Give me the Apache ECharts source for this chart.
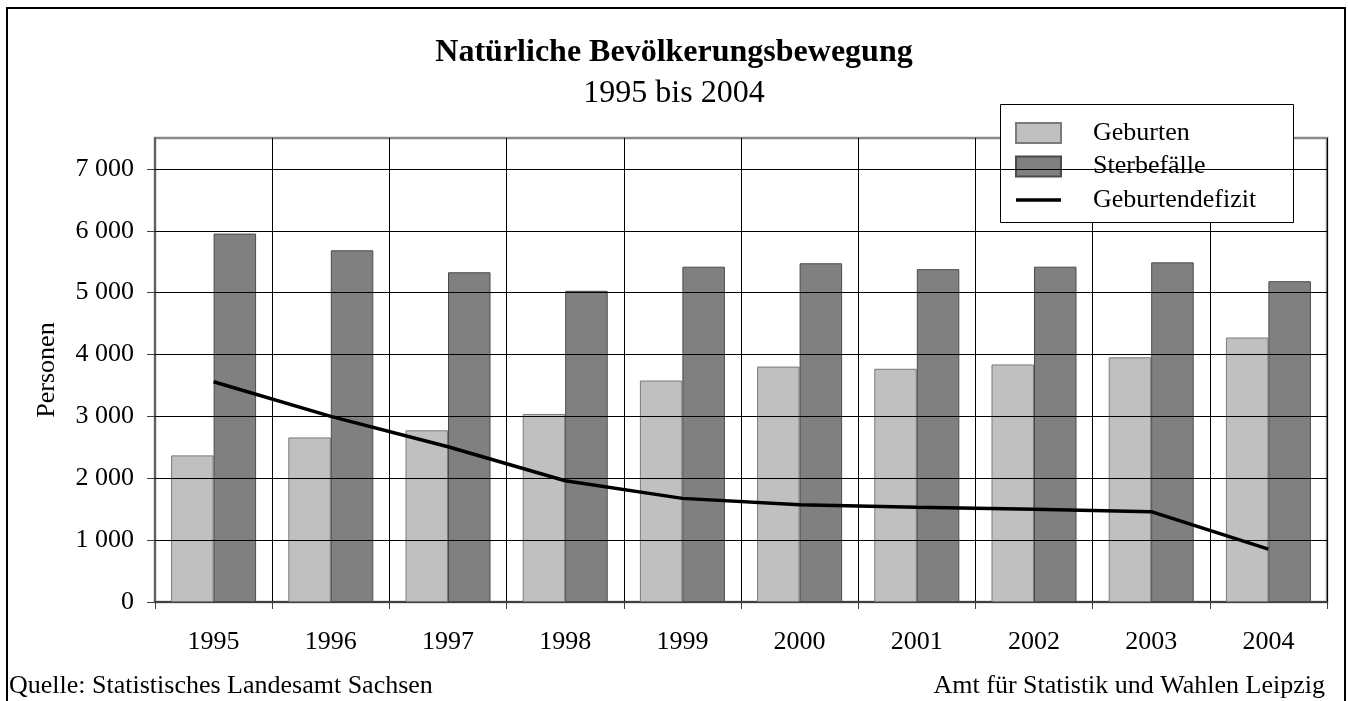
<!DOCTYPE html>
<html>
<head>
<meta charset="utf-8">
<script src="https://cdn.jsdelivr.net/npm/echarts@6/dist/echarts.min.js"></script>
<style>
  html, body { margin: 0; padding: 0; background: #fff; }
  #main { width: 1348px; height: 701px; }
</style>
</head>
<body>
<div id="main"></div>
<script>
var myChart = echarts.init(document.getElementById('main'));

// Jahre
var years = ['1995', '1996', '1997', '1998', '1999', '2000', '2001', '2002', '2003', '2004'];
// Geburten
var geburten = [2370, 2660, 2775, 3040, 3580, 3805, 3770, 3840, 3955, 4275];
// Sterbefälle
var sterbefaelle = [5955, 5685, 5330, 5030, 5420, 5475, 5380, 5420, 5490, 5185];
// Geburtendefizit
var defizit = [3560, 3000, 2510, 1960, 1675, 1570, 1530, 1500, 1460, 855];
// y ticks
var yTicks = [0, 1000, 2000, 3000, 4000, 5000, 6000, 7000];

var serif = '"Liberation Serif", "DejaVu Serif", serif';

function fmt(v) {
    return String(v).replace(/\B(?=(\d{3})+(?!\d))/g, ' ');
}

// thin horizontal bar as legend icon for the line (extra moveTo points keep the 45x20 box)
var lineIcon = 'path://M0,0 M0,8.2 L45,8.2 L45,11.8 L0,11.8 Z M45,20';

var option = {
    backgroundColor: '#fff',
    animation: false,
    title: [{
        text: 'Natürliche Bevölkerungsbewegung',
        left: 'center',
        top: 32,
        textStyle: { fontFamily: serif, fontSize: 32, fontWeight: 'bold', color: '#000' }
    }, {
        text: '1995 bis 2004',
        left: 'center',
        top: 73,
        textStyle: { fontFamily: serif, fontSize: 32, fontWeight: 'normal', color: '#000' }
    }],
    graphic: [{
        type: 'rect',
        z: 0,
        shape: { x: 7, y: 8, width: 1338, height: 710 },
        style: { fill: null, stroke: '#000', lineWidth: 2 }
    }, {
        type: 'rect',
        z: 3,
        shape: { x: 1000.5, y: 104.5, width: 293, height: 118 },
        style: { fill: '#fff', stroke: '#000', lineWidth: 1 }
    }, {
        type: 'text',
        left: 9,
        top: 673,
        style: { text: 'Quelle: Statistisches Landesamt Sachsen', font: '26px ' + serif, fill: '#000' }
    }, {
        type: 'text',
        right: 23,
        top: 673,
        style: { text: 'Amt für Statistik und Wahlen Leipzig', font: '26px ' + serif, fill: '#000' }
    }],
    legend: {
        orient: 'vertical',
        left: 1015,
        top: 120,
        padding: 0,
        itemWidth: 45,
        itemHeight: 20,
        itemGap: 7.5,
        z: 4,
        textStyle: { fontFamily: serif, fontSize: 26, color: '#000', padding: [0, 0, 0, 27] },
        data: [
            { name: 'Geburten', icon: 'rect' },
            { name: 'Sterbefälle', icon: 'rect' },
            { name: 'Geburtendefizit', icon: lineIcon }
        ]
    },
    grid: {
        left: 155,
        right: 21,
        top: 138,
        bottom: 99,
        show: true,
        borderColor: '#8a8a8a',
        borderWidth: 2.5,
        containLabel: false
    },
    xAxis: {
        type: 'category',
        data: years,
        axisLine: { lineStyle: { color: '#404040', width: 2 } },
        axisTick: { show: true, length: 7, lineStyle: { color: '#404040' } },
        axisLabel: { fontFamily: serif, fontSize: 26, color: '#000', margin: 27 },
        splitLine: { show: true, lineStyle: { color: '#000', width: 1 } }
    },
    yAxis: {
        type: 'value',
        min: 0,
        max: 7500,
        interval: 500,
        name: 'Personen',
        nameLocation: 'middle',
        nameGap: 95,
        nameTextStyle: { fontFamily: serif, fontSize: 26, color: '#000' },
        axisLine: { show: true, lineStyle: { color: '#606060', width: 2 } },
        axisTick: { show: true, length: 8, customValues: yTicks, lineStyle: { color: '#404040' } },
        axisLabel: {
            fontFamily: serif, fontSize: 26, color: '#000', margin: 21,
            customValues: yTicks,
            formatter: fmt
        },
        splitLine: { show: false }
    },
    series: [{
        name: 'Geburten',
        type: 'bar',
        data: geburten,
        barWidth: 42.5,
        barGap: '0%',
        itemStyle: { color: '#c0c0c0', borderColor: '#7a7a7a', borderWidth: 1 }
    }, {
        name: 'Sterbefälle',
        type: 'bar',
        data: sterbefaelle,
        barWidth: 42.5,
        barGap: '0%',
        itemStyle: { color: '#808080', borderColor: '#4a4a4a', borderWidth: 1 }
    }, {
        name: 'Geburtendefizit',
        type: 'line',
        data: defizit,
        symbol: 'none',
        z: 5,
        lineStyle: { color: '#000', width: 3.5 },
        itemStyle: { color: '#000' }
    }, {
        // horizontal gridlines at the tick values
        type: 'line',
        data: [],
        silent: true,
        markLine: {
            symbol: 'none',
            silent: true,
            label: { show: false },
            lineStyle: { color: '#000', width: 1, type: 'solid' },
            data: yTicks.slice(1).map(function (v) { return { yAxis: v }; })
        }
    }]
};

myChart.setOption(option);
</script>
</body>
</html>
